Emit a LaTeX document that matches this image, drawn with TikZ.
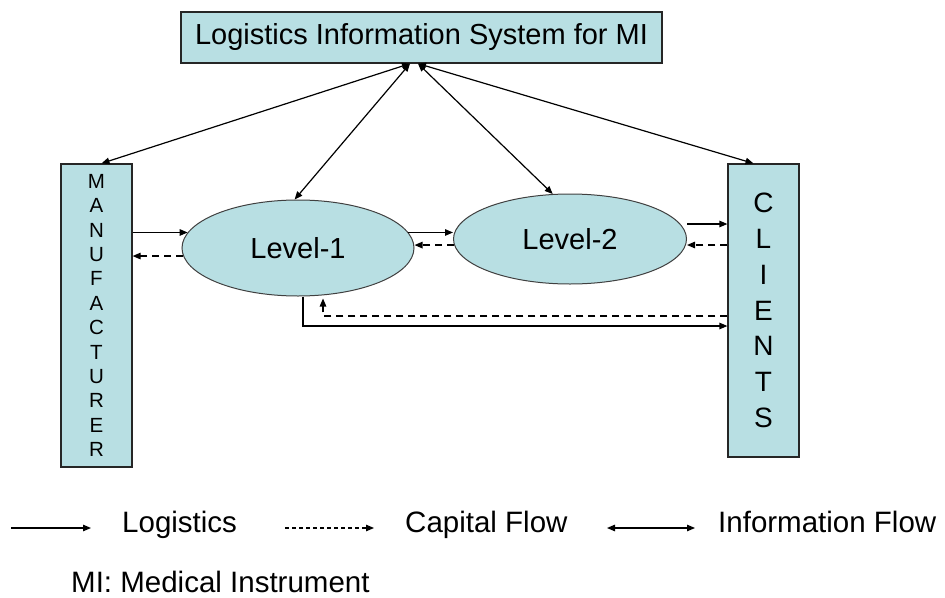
\documentclass[tikz,border=0pt]{standalone}
\usepackage{fontspec}
\setmainfont{Liberation Sans}
\usetikzlibrary{arrows.meta,calc,shapes.geometric}
\definecolor{boxfill}{RGB}{184,223,227}
\begin{document}
\begin{tikzpicture}[x=1pt,y=-1pt,
  box/.style={draw=black!85,line width=1.2pt,fill=boxfill,inner sep=0pt},
  lvl/.style={ellipse,draw=black!75,line width=1pt,fill=boxfill,inner sep=0pt,font=\fontsize{29}{33}\selectfont},
  logi/.style={line width=1.2pt,-{Triangle[length=8pt,width=6.5pt]}},
  capi/.style={line width=1.2pt,dash pattern=on 7pt off 5pt,-{Triangle[length=8pt,width=6.5pt]}},
  info/.style={line width=1.2pt,{Triangle[length=8pt,width=6.5pt]}-{Triangle[length=8pt,width=6.5pt]}},
  lab/.style={anchor=base west,inner sep=0pt,font=\fontsize{29.5}{33}\selectfont}]
\useasboundingbox (0,0) rectangle (945,597);

\node[box,minimum width=481pt,minimum height=51pt,font=\fontsize{29}{33}\selectfont] (top) at (421.5,37.5) {Logistics Information System for MI};
\node[box,minimum width=71pt,minimum height=303pt,align=center,font=\fontsize{20.5}{24.4}\selectfont] (manu) at (96.5,315.5) {M\\A\\N\\U\\F\\A\\C\\T\\U\\R\\E\\R};
\node[box,minimum width=71pt,minimum height=293pt,align=center,font=\fontsize{28}{35.8}\selectfont] (cli) at (763.5,310.5) {C\\L\\I\\E\\N\\T\\S};
\node[lvl,minimum width=232pt,minimum height=96pt] (lev1) at (298,248) {Level-1};
\node[lvl,minimum width=233pt,minimum height=90pt] (lev2) at (570,239) {Level-2};

% information flow
\draw[info] ($(top.south)+(-11.5,0)$) -- ($(manu.north)+(5,0)$);
\draw[info] ($(top.south)+(-11.5,0)$) -- (lev1.94);
\draw[info] ($(top.south)+(-3.5,0)$) -- (lev2.111);
\draw[info] ($(top.south)+(-3.5,0)$) -- ($(cli.north)+(-10,0)$);

% logistics / capital
\draw[logi] (manu.east |- lev1.172) -- (lev1.172);
\draw[capi] (lev1.184) -- (manu.east |- lev1.184);
\draw[logi] (lev1.8) -- (lev1.8 -| lev2.west);
\draw[capi] (lev2.183) -- (lev2.183 -| lev1.east);
\draw[logi] ($(lev2.east)+(0,-15)$) -- (cli.west |- {$(lev2.east)+(0,-15)$});
\draw[capi] (cli.west |- {$(lev2.east)+(0,6)$}) -- ($(lev2.east)+(0,6)$);
\draw[logi] ($(lev1.south)+(5,0)$) |- ($(cli.west)+(0,15.5)$);
\draw[capi] ($(cli.west)+(0,5.5)$) -| ($(lev1.south)+(25,2)$);

% legend
\node[lab] (l1) at (122,532) {Logistics};
\node[lab] (l2) at (405,532) {Capital Flow};
\node[lab] (l3) at (718,532) {Information Flow};
\node[lab] (mi) at (71,592) {MI: Medical Instrument};
\coordinate (a1) at (11,528);
\coordinate (b1) at (91,528);
\coordinate (a2) at (285,528);
\coordinate (b2) at (374,528);
\coordinate (a3) at (607,528);
\coordinate (b3) at (695,528);
\draw[logi] (a1) -- (b1);
\draw[line width=1.2pt,dash pattern=on 4pt off 3pt,-{Triangle[length=8pt,width=6.5pt]}] (a2) -- (b2);
\draw[info] (a3) -- (b3);
\end{tikzpicture}
\end{document}
